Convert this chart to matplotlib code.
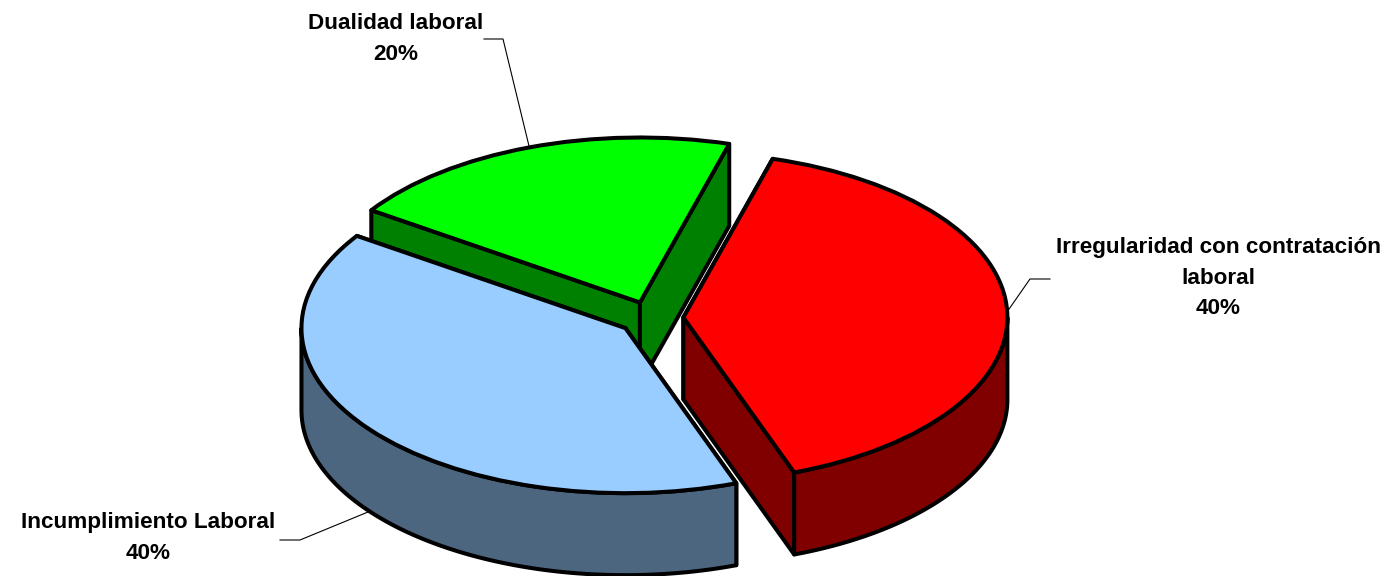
#!/usr/bin/env python3
import numpy as np
import matplotlib
matplotlib.use('Agg')
import matplotlib.pyplot as plt
from matplotlib.patches import Polygon

categories = ['Irregularidad con contratación\nlaboral', 'Dualidad laboral', 'Incumplimiento Laboral']
shares = [40, 20, 40]
top_colors = ['#FF0000', '#00FF00', '#99CCFF']
side_colors = ['#800000', '#008000', '#4D6680']

W, H = 1390, 576
CX, CY = 651, 318   # pie centre in pixels
RX, RY = 324, 165   # ellipse radii in pixels
DEPTH = 82 / RY     # extrusion, in data units
LW = 2.9

# label text position (centre) and leader line, in pixels
label_pos = [(1218, 278), (396, 39), (148, 538)]
leaders = [[(1007, 312), (1030, 279), (1050, 279)],
           [(529, 146), (503, 39), (484, 39)],
           [(368, 512), (300, 540), (280, 540)]]


def px(x, y):
    ''' pixel position to pie data units '''
    return (x - CX) / RX, (CY - y) / RY


def arc(wedge, t1, t2):
    t = np.radians(np.linspace(t1, t2, 120))
    return np.column_stack([wedge.center[0] + wedge.r * np.cos(t),
                            wedge.center[1] + wedge.r * np.sin(t)])


def side_face(ax, pts, color, z):
    ax.add_patch(Polygon(pts, closed=True, facecolor=color, edgecolor='black',
                         linewidth=LW, joinstyle='round', zorder=z))


def draw_sides(ax, wedge, color, z):
    ''' cut faces first, then the visible part of the rim, wedge on top '''
    down = np.array([0, -DEPTH])
    apex = np.array(wedge.center)
    for theta in (wedge.theta2, wedge.theta1):
        edge = arc(wedge, theta, theta)[0]
        side_face(ax, [apex, edge, edge + down, apex + down], color, z)
    # only the front half of the rim can be seen
    for k in (-360, 0, 360):
        t1, t2 = max(wedge.theta1, 180 + k), min(wedge.theta2, 360 + k)
        if t2 > t1:
            rim = arc(wedge, t1, t2)
            side_face(ax, np.vstack([rim, rim[::-1] + down]), color, z)


fig = plt.figure(figsize=(W / 100, H / 100), dpi=100)
ax = fig.add_axes([0, 0, 1, 1])
wedges, _ = ax.pie(shares, explode=[0.1, 0.1, 0.1], colors=top_colors, startangle=-70,
                   wedgeprops={'edgecolor': 'black', 'linewidth': LW, 'joinstyle': 'round'})
ax.set_aspect('auto')
ax.set_xlim(px(0, 0)[0], px(W, 0)[0])
ax.set_ylim(px(0, H)[1], px(0, 0)[1])

# back to front: green, red, blue
order = [1, 0, 2]
for z, i in enumerate(order):
    draw_sides(ax, wedges[i], side_colors[i], 2 * z + 1)
    wedges[i].set_zorder(2 * z + 2)

for i in range(len(shares)):
    x, y = zip(*[px(*p) for p in leaders[i]])
    ax.plot(x, y, color='black', linewidth=0.8, zorder=10)
    lx, ly = px(*label_pos[i])
    ax.text(lx, ly, '%s\n%d%%' % (categories[i], shares[i]), ha='center', va='center',
            family='Liberation Sans', fontweight='bold', fontsize=16.2, linespacing=1.57,
            zorder=11)

plt.savefig('out.png', dpi=100)
